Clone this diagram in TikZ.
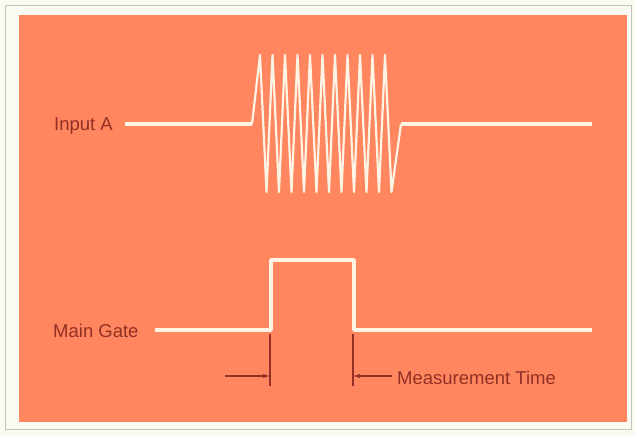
\documentclass[tikz,border=0pt]{standalone}
\usepackage{fontspec}
\setmainfont{Liberation Sans}
\usepackage{xcolor}
\usepackage{tikz}
\usetikzlibrary{arrows.meta}

\definecolor{paper}{RGB}{250,250,243}
\definecolor{rim}{RGB}{196,196,188}
\definecolor{panel}{RGB}{255,134,94}
\definecolor{trace}{RGB}{255,243,228}
\definecolor{ink}{RGB}{146,48,38}

\begin{document}
\begin{tikzpicture}[
x=1pt, y=-1pt,
lbl/.style={
  anchor=west,
  inner sep=0pt,
  text=ink,
  font=\fontsize{18.5}{22}\selectfont
},
signal/.style={
  draw=trace,
  line width=3.6pt,
  line join=round
},
burst/.style={
  draw=trace,
  line width=2.2pt,
  line join=round
},
dimline/.style={draw=ink, line width=1.1pt},
dimarr/.style={-{Latex[length=7pt,width=4.5pt]}, draw=ink, line width=1.1pt}
]

% ---- PAPER AND PANEL ----
\useasboundingbox (0,0) rectangle (635,436);
\fill[paper] (0,0) rectangle (635,436);
\draw[rim, line width=0.8pt] (5,5) rectangle (631,429);
\fill[panel] (19,15) rectangle (627,422);

% ---- TOP TRACE: Input A ----
\node[lbl] (inA) at (54,126) {Input A};

\coordinate (a0) at (125,124);
\coordinate (a1) at (252,124);
\coordinate (a2) at (401,124);
\coordinate (a3) at (592,124);

\draw[signal] (a0) -- (a1);
\draw[burst] (a1) \foreach \k in {0,...,10} {
  -- ({260+12.5*\k},55) -- ({266.5+12.5*\k},192)
} -- (a2);
\draw[signal] (a2) -- (a3);

% ---- BOTTOM TRACE: Main Gate ----
\node[lbl] (gate) at (53,331) {Main Gate};

\coordinate (g0) at (155,330);
\coordinate (g1) at (271,330);
\coordinate (g2) at (271,260);
\coordinate (g3) at (354,260);
\coordinate (g4) at (354,330);
\coordinate (g5) at (592,330);

\draw[signal] (g0) -- (g1) -- (g2) -- (g3) -- (g4) -- (g5);

% ---- MEASUREMENT TIME ----
\coordinate (m1) at (270,334);
\coordinate (m2) at (270,386);
\coordinate (m3) at (353,334);
\coordinate (m4) at (353,386);
\coordinate (p1) at (225,376);
\coordinate (p2) at (270,376);
\coordinate (p3) at (353,376);

\draw[dimline] (m1) -- (m2);
\draw[dimline] (m3) -- (m4);

\node[lbl] (mtime) at (397,378) {Measurement Time};

\draw[dimarr] (p1) -- (p2);
\draw[dimarr] (mtime.west) ++(-5,-2) coordinate (p4) -- (p3);

\end{tikzpicture}
\end{document}
